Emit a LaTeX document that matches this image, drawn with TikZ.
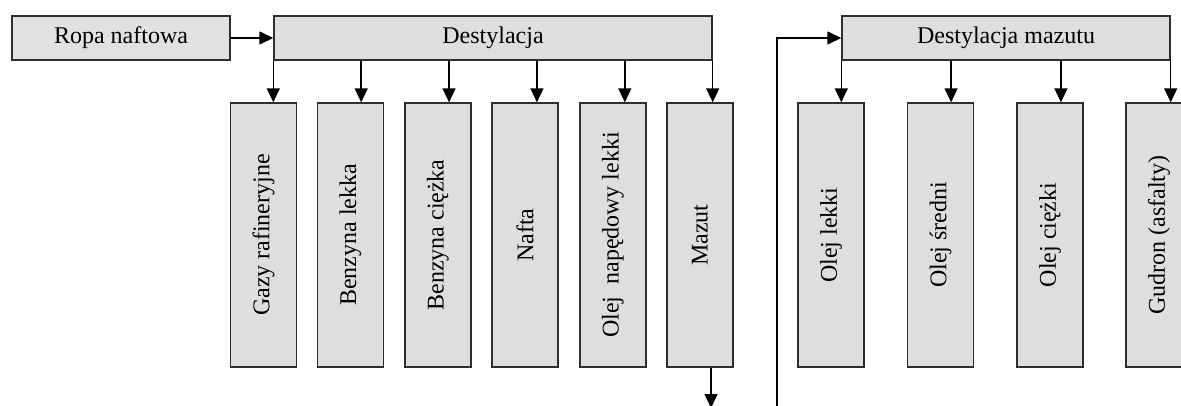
\documentclass[tikz,border=0pt]{standalone}
\usepackage{fontspec}
\setmainfont{Liberation Serif}
\usetikzlibrary{arrows.meta,calc}
\definecolor{boxfill}{HTML}{DEDEDE}
\definecolor{feedfill}{HTML}{E3E0E3}
\definecolor{edge}{HTML}{2E2E2E}
\tikzset{
  every node/.style={font=\fontsize{24}{28}\selectfont},
  procbox/.style={draw=edge, line width=1.4pt, fill=boxfill, rectangle,
    minimum width=#1, minimum height=44pt, inner sep=0pt},
  productbox/.style={draw=edge, line width=1.4pt, fill=boxfill, rectangle,
    minimum width=66pt, minimum height=264pt, inner sep=0pt},
  arr/.style={draw=black, line width=1.4pt,
    -{Triangle[length=14pt,width=13pt]}},
  plain/.style={draw=black, line width=1.4pt},
}
\newcommand{\vtext}[1]{\rotatebox{90}{#1}}
\begin{document}
\begin{tikzpicture}[x=1pt,y=-1pt]
  \useasboundingbox (0,0) rectangle (1181,405);
  \clip (0,0) rectangle (1181,405);

  % crude distillation
  \node[procbox=218pt, fill=feedfill] (ropa) at (121,38) {Ropa naftowa};
  \node[procbox=438pt] (dest) at (493,38) {Destylacja};
  \draw[arr] (ropa) -- (dest);

  \node[productbox] (b1) at (263.5,235) {\vtext{Gazy rafineryjne}};
  \node[productbox] (b2) at (350.5,235) {\vtext{Benzyna lekka}};
  \node[productbox] (b3) at (438,235)   {\vtext{Benzyna ciężka}};
  \node[productbox] (b4) at (525,235)   {\vtext{Nafta}};
  \node[productbox] (b5) at (613,235)   {\vtext{Olej\ \ napędowy lekki}};
  \node[productbox] (b6) at (700,235)   {\vtext{Mazut}};

  \foreach \k/\b in {0/b1,0.2/b2,0.4/b3,0.6/b4,0.8/b5,1/b6}{
    \coordinate (t) at ($(dest.south west)!\k!(dest.south east)$);
    \draw[arr] (t) -- (t |- \b.north);
  }

  % residue leaving the first column and feeding the second
  \coordinate (mazOut) at (711,408);
  \draw[arr] (b6.south -| mazOut) -- (mazOut);

  % vacuum distillation of the residue
  \node[procbox=328pt] (dm) at (1006,38) {Destylacja mazutu};
  \coordinate (feedIn) at (777,410);
  \draw[arr] (feedIn) -- (feedIn |- dm.west) -- (dm.west);

  \node[productbox] (c1) at (831,235)    {\vtext{Olej lekki}};
  \node[productbox] (c2) at (940.5,235)  {\vtext{Olej średni}};
  \node[productbox] (c3) at (1050,235)   {\vtext{Olej ciężki}};
  \node[productbox] (c4) at (1159,235)   {\vtext{Gudron (asfalty)}};

  \foreach \k/\b in {0/c1,0.3333/c2,0.6667/c3,1/c4}{
    \coordinate (t) at ($(dm.south west)!\k!(dm.south east)$);
    \draw[arr] (t) -- (t |- \b.north);
  }
\end{tikzpicture}
\end{document}
